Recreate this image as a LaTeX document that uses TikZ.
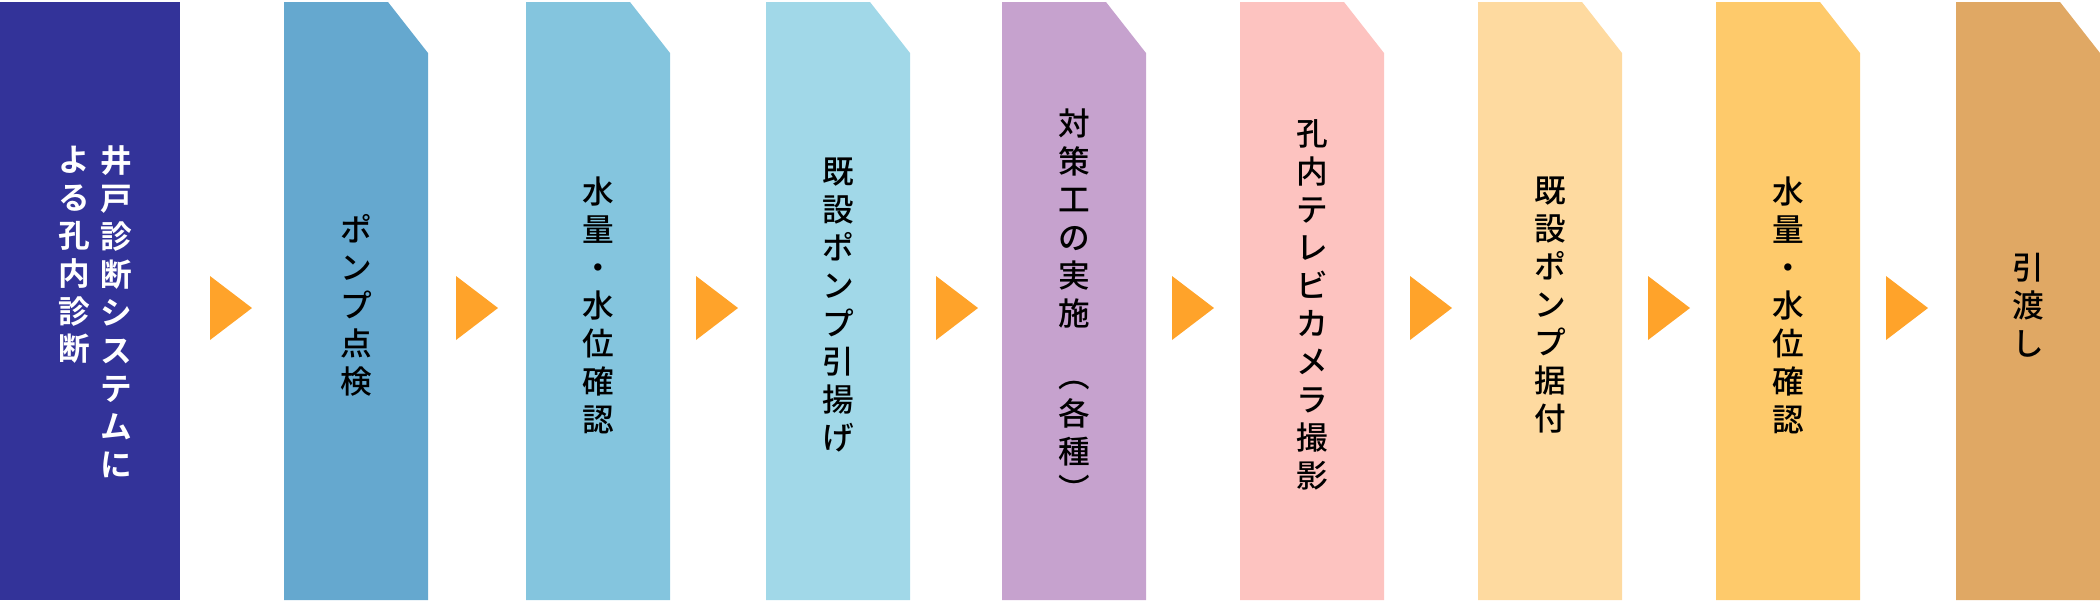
\documentclass[tikz,border=0pt]{standalone}
\usepackage{fontspec}
\newfontfamily\jp{Noto Sans CJK JP Medium}
\newfontfamily\jpb{Noto Sans CJK JP Bold}
\usetikzlibrary{positioning}
\definecolor{cA}{HTML}{333399}
\definecolor{cB}{HTML}{65A8CF}
\definecolor{cC}{HTML}{84C5DE}
\definecolor{cD}{HTML}{A1D8E8}
\definecolor{cE}{HTML}{C6A2CE}
\definecolor{cF}{HTML}{FDC3C0}
\definecolor{cG}{HTML}{FEDAA0}
\definecolor{cH}{HTML}{FECA6B}
\definecolor{cI}{HTML}{E0A864}
\definecolor{arr}{HTML}{FFA32A}
\tikzset{
  label/.style={font=\jp\fontsize{9pt}{10.8pt}\selectfont, align=center, inner sep=0pt},
  blabel/.style={label, font=\jpb\fontsize{9pt}{10.8pt}\selectfont, white, anchor=north},
}
\newcommand{\stepbox}[4]{% x0, x1, colour, name
  \fill[#3] (#1,2) -- ({#2-40},2) -- (#2,53) -- (#2,600) -- (#1,600) -- cycle;
  \coordinate (#4) at ({(#1+#2)/2},305);}
\begin{document}
\begin{tikzpicture}[x=0.01cm,y=-0.01cm]
		\useasboundingbox (0,0) rectangle (2100,602);
		% first box
		\fill[cA] (0,2) rectangle (180,600);
		\coordinate (b1) at (90,305);
		\node[blabel] (t1a) at (116,145) {井\\戸\\診\\断\\シ\\ス\\テ\\ム\\に};
		\node[blabel] (t1b) at (74,145) {よ\\る\\孔\\内\\診\\断};
		
		\stepbox{284}{428}{cB}{b2}
		\stepbox{526}{670}{cC}{b3}
		\stepbox{766}{910}{cD}{b4}
		\stepbox{1002}{1146}{cE}{b5}
		\stepbox{1240}{1384}{cF}{b6}
		\stepbox{1478}{1622}{cG}{b7}
		\stepbox{1716}{1860}{cH}{b8}
		\stepbox{1956}{2100}{cI}{b9}
		
		\node[label] (t2) at (b2) {ポ\\ン\\プ\\点\\検};
		\node[label] (t3) at (b3) {水\\量\\・\\水\\位\\確\\認};
		\node[label] (t4) at (b4) {既\\設\\ポ\\ン\\プ\\引\\揚\\げ};
		\node[label] (t5) at (b5) {対\\策\\工\\の\\実\\施\\[-4pt]\\︵\\各\\種\\︶};
		\node[label] (t6) at (b6) {孔\\内\\テ\\レ\\ビ\\カ\\メ\\ラ\\撮\\影};
		\node[label] (t7) at (b7) {既\\設\\ポ\\ン\\プ\\据\\付};
		\node[label] (t8) at (b8) {水\\量\\・\\水\\位\\確\\認};
		\node[label] (t9) at (b9) {引\\渡\\し};
		
		% arrows between steps
		\foreach \x in {210,456,696,936,1172,1410,1648,1886}
		  \fill[arr] (\x,276) -- (\x+42,308) -- (\x,340) -- cycle;
		
		\end{tikzpicture}
\end{document}
